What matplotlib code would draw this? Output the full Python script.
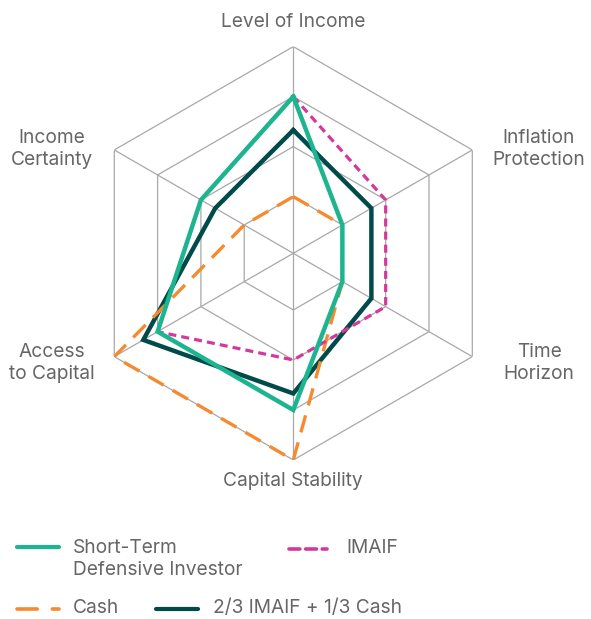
import numpy as np
import matplotlib
matplotlib.use("Agg")
import matplotlib.pyplot as plt
from matplotlib.lines import Line2D

categories = ["Level of Income", "Inflation\nProtection", "Time\nHorizon",
              "Capital Stability", "Access\nto Capital", "Income\nCertainty"]
short_term = [3, 1, 1, 3, 3, 2]
imaif = [3, 2, 2, 2, 3, 2]
cash = [1, 1, 1, 4, 4, 1]
blend = [2.33, 1.67, 1.67, 2.67, 3.33, 1.67]
levels = [1, 2, 3, 4]
series_names = ["Short-Term\nDefensive Investor", "IMAIF", "Cash", "2/3 IMAIF + 1/3 Cash"]

GREEN = "#1cb58f"
PINK = "#d3399a"
ORANGE = "#f58a2e"
DARK = "#004a4a"
GRID = "#a8a8a8"
TXT = "#666666"
FONT = ["Inter", "DejaVu Sans"]
FS = 13.8

W, H = 591, 619
fig = plt.figure(figsize=(W / 100, H / 100), dpi=100)
cx, cy, R = 293.3, 253.3, 206.7
ax = fig.add_axes([(cx - R) / W, (H - cy - R) / H, 2 * R / W, 2 * R / H], projection="polar")
ax.set_theta_zero_location("N")
ax.set_theta_direction(-1)
rmin = -0.133
ax.set_ylim(rmin, 4)
ax.grid(False)
ax.spines["polar"].set_visible(False)
ax.set_xticks([])
ax.set_yticks([])
ax.patch.set_alpha(0)

n = len(categories)
theta = np.arange(n) * 2 * np.pi / n
closed = np.append(theta, theta[0])

def close(v):
    return list(v) + [v[0]]

for lv in levels:
    ax.plot(closed, [lv] * (n + 1), color=GRID, lw=0.9, zorder=1)
for t in theta:
    ax.plot([t, t], [rmin, levels[-1]], color=GRID, lw=0.9, zorder=1)

ax.plot(closed, close(blend), color=DARK, lw=3.2, zorder=3, solid_joinstyle="miter")
ax.plot(closed, close(cash), color=ORANGE, lw=2.4, zorder=4, dashes=(5.3, 3.1), dash_capstyle="butt")
ax.plot(closed, close(imaif), color=PINK, lw=2.3, zorder=5, dashes=(2.5, 1.6), dash_capstyle="butt")
ax.plot(closed, close(short_term), color=GREEN, lw=3.2, zorder=6, solid_joinstyle="miter")

# axis labels
label_pos = [(293.5, 21.7), (539, 149), (539, 363), (293, 481), (52, 363), (52, 149)]
for lab, (x, y) in zip(categories, label_pos):
    fig.text(x / W, 1 - y / H, lab, ha="center", va="center", color=TXT,
             fontsize=FS, family=FONT, linespacing=1.22, multialignment="center")

# legend
def px(x, y):
    return x / W, 1 - y / H

def leg_line(x0, x1, y, **kw):
    (a, b), (c, d) = px(x0, y), px(x1, y)
    fig.add_artist(Line2D([a, c], [b, d], transform=fig.transFigure, **kw))

leg_line(17, 59, 547, color=GREEN, lw=3.0, solid_capstyle="round")
fig.text(*px(73, 559), series_names[0], ha="left", va="center", color=TXT,
         fontsize=FS, family=FONT, linespacing=1.22)
leg_line(289, 327, 549, color=PINK, lw=2.6, dashes=(3.0, 1.6), dash_capstyle="round")
fig.text(*px(346, 548), series_names[1], ha="left", va="center", color=TXT, fontsize=FS, family=FONT)
leg_line(17, 59, 609, color=ORANGE, lw=2.6, dashes=(5.6, 4.2), dash_capstyle="round")
fig.text(*px(73, 608), series_names[2], ha="left", va="center", color=TXT, fontsize=FS, family=FONT)
leg_line(156, 198, 609, color=DARK, lw=3.0, solid_capstyle="round")
fig.text(*px(212.7, 608), series_names[3], ha="left", va="center", color=TXT, fontsize=FS, family=FONT)

fig.savefig("out.png", dpi=100)
